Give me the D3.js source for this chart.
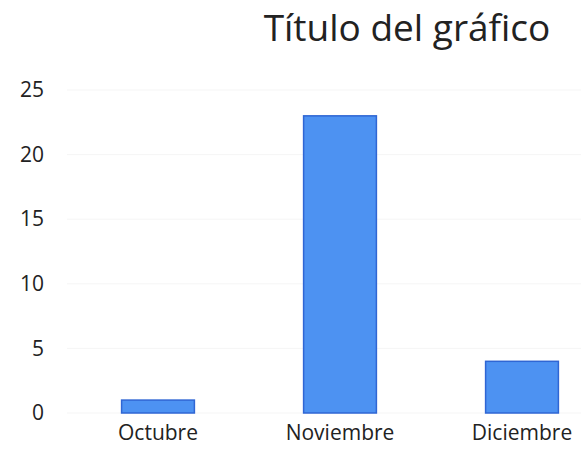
<!DOCTYPE html>
<html>
<head>
<meta charset="utf-8">
<script src="https://cdn.jsdelivr.net/npm/d3@7"></script>
<style>
  body { margin: 0; background: #fff; }
  text { font-family: "Open Sans", sans-serif; fill: #222; }
</style>
</head>
<body>
<script>
var width = 581,
    height = 462;

// data
var categories = ["Octubre", "Noviembre", "Diciembre"];
var values = [1, 23, 4];
var yTicks = [0, 5, 10, 15, 20, 25];
var title = "Título del gráfico";

var svg = d3.select("body").append("svg")
    .attr("width", width)
    .attr("height", height);

var x = d3.scaleBand()
    .domain(categories)
    .range([67, 613])
    .paddingInner(0.6)
    .paddingOuter(0.3);

var y = d3.scaleLinear()
    .domain([0, 25])
    .range([413, 90]);

// faint gridlines
svg.append("g")
  .selectAll("line")
    .data(yTicks)
  .enter().append("line")
    .attr("x1", 67)
    .attr("x2", 581)
    .attr("y1", function(d){ return y(d); })
    .attr("y2", function(d){ return y(d); })
    .attr("stroke", "#f5f5f5")
    .attr("stroke-width", 1);

// y axis labels
var yAxis = d3.axisLeft(y).tickValues(yTicks).tickSize(0).tickPadding(0);
svg.append("g")
    .attr("transform", "translate(44,0)")
    .call(yAxis)
    .call(function(g){ g.select(".domain").remove(); })
    .selectAll("text")
      .style("font-size", "21px")
      .style("font-family", "Open Sans, sans-serif")
      .attr("fill", "#222");

// x axis labels
var xAxis = d3.axisBottom(x).tickSize(0).tickPadding(0);
svg.append("g")
    .attr("transform", "translate(0,425)")
    .call(xAxis)
    .call(function(g){ g.select(".domain").remove(); })
    .selectAll("text")
      .style("font-size", "21px")
      .style("font-family", "Open Sans, sans-serif")
      .attr("fill", "#222");

// bars
svg.append("g")
  .selectAll("rect")
    .data(values)
  .enter().append("rect")
    .attr("x", function(d, i){ return x(categories[i]); })
    .attr("y", function(d){ return y(d); })
    .attr("width", x.bandwidth())
    .attr("height", function(d){ return y(0) - y(d); })
    .attr("fill", "#4d92f2")
    .attr("stroke", "#2f66d4")
    .attr("stroke-width", 1.5);

svg.append("text")
    .attr("x", 407)
    .attr("y", 41)
    .attr("text-anchor", "middle")
    .style("font-size", "37px")
    .text(title);
</script>
</body>
</html>
